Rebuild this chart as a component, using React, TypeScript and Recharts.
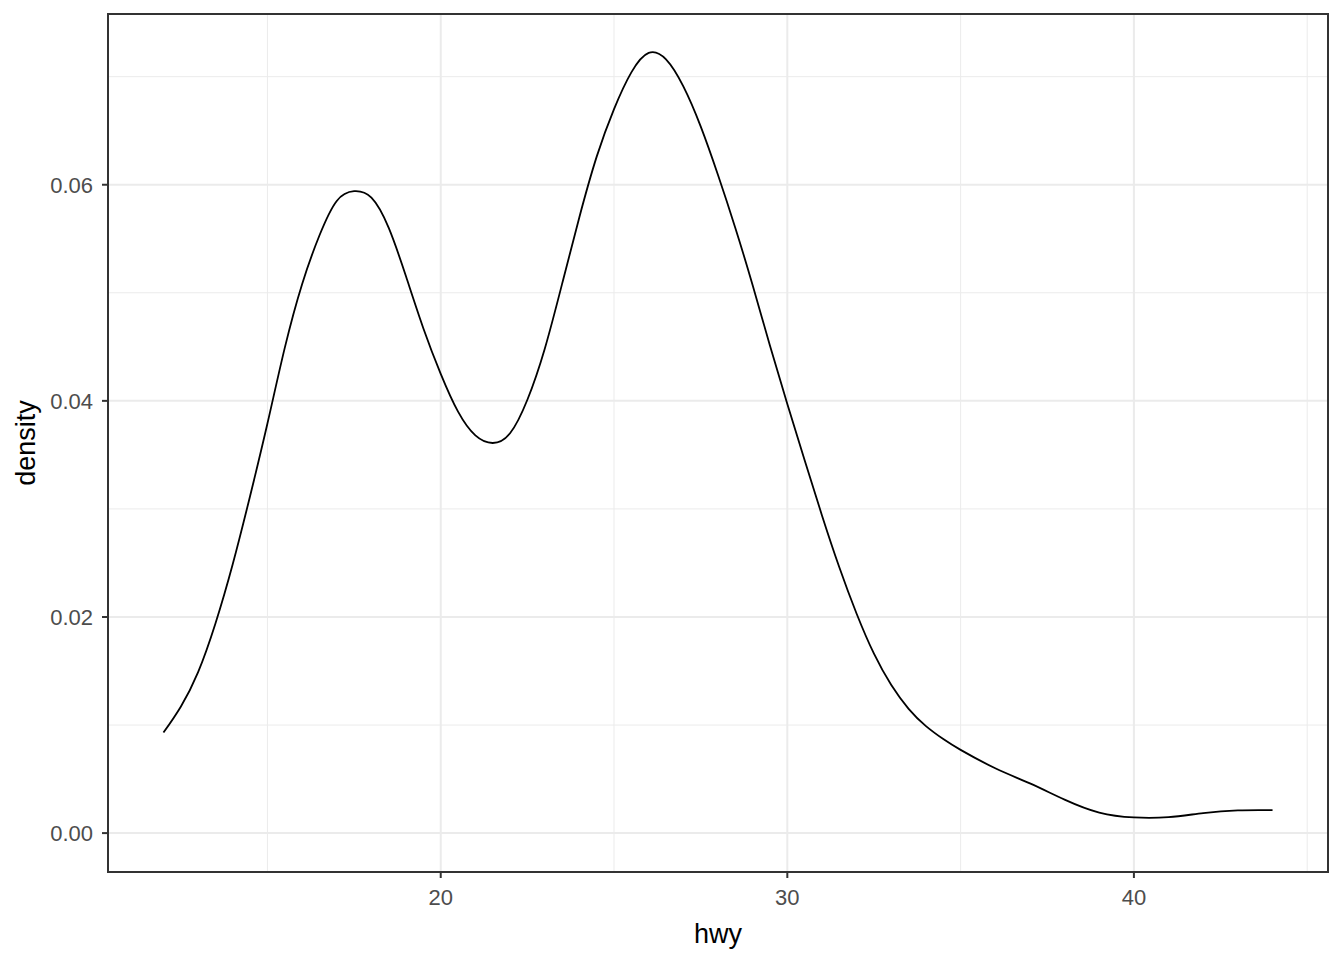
import React from 'react';
import { LineChart, Line, XAxis, YAxis, CartesianGrid, ReferenceArea } from 'recharts';

// density estimate of hwy
const hwyValues = [
  12, 12.5, 13, 13.5, 14, 14.5, 15, 15.5, 16, 16.5, 17, 17.5, 18, 18.5, 19, 19.5,
  20, 20.5, 21, 21.5, 22, 22.5, 23, 23.5, 24, 24.5, 25, 25.5, 26, 26.5, 27, 27.5,
  28, 28.5, 29, 29.5, 30, 30.5, 31, 31.5, 32, 32.5, 33, 33.5, 34, 34.5, 35, 36,
  37, 38, 39, 40, 41, 42, 43, 44,
];
const densityValues = [
  0.0093, 0.0117, 0.0149, 0.0194, 0.0249, 0.0312, 0.0379, 0.0449, 0.0508, 0.0553, 0.0585, 0.0594, 0.0588, 0.056, 0.0515, 0.0467,
  0.0425, 0.039, 0.0368, 0.0361, 0.037, 0.0401, 0.0448, 0.0508, 0.057, 0.0626, 0.067, 0.0704, 0.0722, 0.0716, 0.0691, 0.0654,
  0.0609, 0.056, 0.0507, 0.0451, 0.0397, 0.0345, 0.0294, 0.0246, 0.0203, 0.0166, 0.0137, 0.0115, 0.0099, 0.0087, 0.0077, 0.006,
  0.0046, 0.0031, 0.0019, 0.00145, 0.00148, 0.00185, 0.0021, 0.00212,
];

const xMajor = [20, 30, 40];
const xMinor = [15, 25, 35, 45];
const yMajor = [0, 0.02, 0.04, 0.06];
const yMinor = [0.01, 0.03, 0.05, 0.07];

const xDomain: [number, number] = [10.4, 45.6];
const yDomain: [number, number] = [-0.0036, 0.0758];

const rows = hwyValues.map((h, i) => ({ hwy: h, density: densityValues[i] }));

const font = '"Liberation Sans", Arial, sans-serif';
const tickStyle = { fill: '#4D4D4D', fontSize: 22, fontFamily: font };

const App = () => {
  return (
    <div style={{ position: 'absolute', left: 0, top: 0, background: '#fff' }}>
      <LineChart width={1344} height={960} data={rows} margin={{ top: 14, right: 16, bottom: 0, left: 0 }}>
        <CartesianGrid stroke="#EBEBEB" strokeWidth={1} verticalValues={xMinor} horizontalValues={yMinor} />
        <CartesianGrid stroke="#EBEBEB" strokeWidth={2} verticalValues={xMajor} horizontalValues={yMajor} />
        <XAxis
          type="number"
          dataKey="hwy"
          domain={xDomain}
          ticks={xMajor}
          allowDataOverflow
          height={88}
          axisLine={false}
          tickLine={{ stroke: '#333333', strokeWidth: 2 }}
          tickSize={6}
          tickMargin={11}
          tick={tickStyle}
          label={{
            content: () => (
              <text x={718} y={943} textAnchor="middle" fill="#000" fontSize={27} fontFamily={font}>hwy</text>
            ),
          }}
        />
        <YAxis
          type="number"
          domain={yDomain}
          ticks={yMajor}
          allowDataOverflow
          width={108}
          axisLine={false}
          tickLine={{ stroke: '#333333', strokeWidth: 2 }}
          tickSize={6}
          tickMargin={9}
          tick={tickStyle}
          tickFormatter={(v: number) => v.toFixed(2)}
          label={{
            content: () => (
              <text x={35} y={443} textAnchor="middle" fill="#000" fontSize={27} fontFamily={font}
                transform="rotate(-90, 35, 443)">density</text>
            ),
          }}
        />
        <Line type="natural" dataKey="density" stroke="#000" strokeWidth={1.8} dot={false} isAnimationActive={false} />
        <ReferenceArea x1={xDomain[0]} x2={xDomain[1]} y1={yDomain[0]} y2={yDomain[1]}
          fill="none" fillOpacity={0} stroke="#333333" strokeWidth={2} ifOverflow="visible" />
      </LineChart>
    </div>
  );
};

export default App;
